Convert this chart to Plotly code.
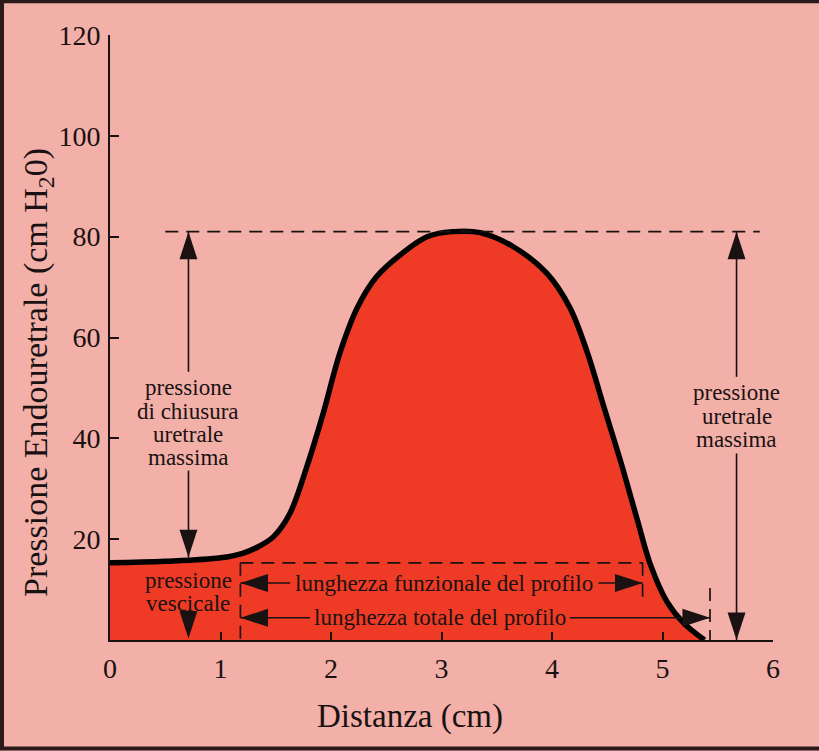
import plotly.graph_objects as go

# ---- data -------------------------------------------------------------
distance_cm = [0.0, 0.5, 1.0, 1.2, 1.35, 1.48, 1.63, 1.78, 1.93, 2.08, 2.24, 2.41,
               2.65, 2.87, 3.1, 3.35, 3.65, 3.95, 4.16, 4.32, 4.47, 4.62, 4.77,
               4.89, 5.04, 5.19, 5.38]
pressure_cmh2o = [15.3, 15.6, 16.3, 17.2, 18.6, 20.5, 25.2, 34.3, 45.0, 56.9, 66.0,
                  72.0, 76.8, 80.0, 81.0, 80.8, 78.0, 72.8, 66.0, 57.0, 46.2, 35.5,
                  24.0, 15.0, 7.6, 3.4, 0.0]

x_ticks = [0, 1, 2, 3, 4, 5, 6]
y_ticks = [20, 40, 60, 80, 100, 120]

max_pressure = 81.0          # pressione uretrale massima
bladder_pressure = 15.3      # pressione vescicale
functional_start = 1.18
functional_end = 4.82
total_end = 5.43
max_line_x = [0.5, 5.88]
closure_x = 0.71
closure_bottom = 16.4
urethral_x = 5.67
functional_arrow_y = 11.3
total_arrow_y = 4.4
functional_end_drop = 7.3
total_end_top = 10.3

closure_label = ["pressione", "di chiusura", "uretrale", "massima"]
closure_label_y = [50.0, 45.4, 40.8, 36.2]
closure_gap = [53.2, 33.6]
urethral_label = ["pressione", "uretrale", "massima"]
urethral_label_y = [49.0, 44.4, 39.8]
urethral_gap = [52.2, 37.0]
vesical_label = ["pressione", "vescicale"]
vesical_label_y = [11.8, 7.3]
vesical_arrow = [4.6, 0.3]
functional_text = "lunghezza funzionale del profilo"
functional_text_span = [1.63, 4.42]
total_text = "lunghezza totale del profilo"
total_text_span = [1.81, 4.16]

# ---- style ------------------------------------------------------------
BG = "#f3b0a8"
RED = "#ef3b25"
INK = "#1a1212"
FONT = "Liberation Serif"
LBL = 23

fig = go.Figure()

fig.add_trace(go.Scatter(
    x=distance_cm, y=pressure_cmh2o, mode="lines",
    line=dict(color="black", width=5.5, shape="spline", smoothing=1.0),
    fill="tozeroy", fillcolor=RED, hoverinfo="skip", showlegend=False,
    cliponaxis=False))

dash = "13px,8px"
def dashed(xs, ys, w=1.7):
    fig.add_trace(go.Scatter(x=xs, y=ys, mode="lines",
                             line=dict(color=INK, width=w, dash=dash),
                             hoverinfo="skip", showlegend=False))

dashed(max_line_x, [max_pressure, max_pressure])
dashed([functional_start, functional_end], [bladder_pressure, bladder_pressure])
dashed([functional_start, functional_start], [bladder_pressure, 0])
dashed([functional_end, functional_end], [bladder_pressure, functional_end_drop])
dashed([total_end, total_end], [total_end_top, 0])

heads_x, heads_y, heads_ang = [], [], []
def arrow(tip_x, tip_y, tail_x, tail_y, angle, line=True):
    if line:
        fig.add_trace(go.Scatter(x=[tail_x, tip_x], y=[tail_y, tip_y], mode="lines",
                                 line=dict(color=INK, width=1.6),
                                 hoverinfo="skip", showlegend=False))
    heads_x.append(tip_x); heads_y.append(tip_y); heads_ang.append(angle)

ann = []
def label(x, y, t, size=LBL):
    ann.append(dict(x=x, y=y, xref="x", yref="y", text=t, showarrow=False,
                    font=dict(family=FONT, size=size, color=INK),
                    xanchor="center", yanchor="middle"))

UP, DOWN, LEFT, RIGHT = 0, 180, 270, 90

# closure pressure
arrow(closure_x, max_pressure, closure_x, closure_gap[0], UP)
arrow(closure_x, closure_bottom, closure_x, closure_gap[1], DOWN)
for t, yy in zip(closure_label, closure_label_y):
    label(closure_x, yy, t)

# max urethral pressure
arrow(urethral_x, max_pressure, urethral_x, urethral_gap[0], UP)
arrow(urethral_x, 0, urethral_x, urethral_gap[1], DOWN)
for t, yy in zip(urethral_label, urethral_label_y):
    label(urethral_x, yy, t)

# bladder pressure
for t, yy in zip(vesical_label, vesical_label_y):
    label(closure_x, yy, t)
arrow(closure_x, vesical_arrow[1], closure_x, vesical_arrow[0], DOWN, line=False)

# functional length
arrow(functional_start, functional_arrow_y, functional_text_span[0], functional_arrow_y, LEFT)
arrow(functional_end, functional_arrow_y, functional_text_span[1], functional_arrow_y, RIGHT)
label(sum(functional_text_span) / 2, functional_arrow_y, functional_text)

# total length
arrow(functional_start, total_arrow_y, total_text_span[0], total_arrow_y, LEFT)
arrow(total_end, total_arrow_y, total_text_span[1], total_arrow_y, RIGHT)
label(sum(total_text_span) / 2, total_arrow_y, total_text)

fig.add_trace(go.Scatter(
    x=heads_x, y=heads_y, mode="markers",
    marker=dict(symbol="arrow", size=29, angle=heads_ang, color=INK,
                line=dict(width=0)),
    hoverinfo="skip", showlegend=False, cliponaxis=False))

# axis titles
ann.append(dict(x=-0.1086, y=0.443, xref="paper", yref="paper", showarrow=False,
                text="Pressione Endouretrale (cm H<sub>2</sub>0)", textangle=-90,
                font=dict(family=FONT, size=34, color=INK),
                xanchor="center", yanchor="middle"))
ann.append(dict(x=0.4525, y=-0.127, xref="paper", yref="paper", showarrow=False,
                text="Distanza (cm)", font=dict(family=FONT, size=33, color=INK),
                xanchor="center", yanchor="middle"))

fig.update_layout(
    width=819, height=751,
    margin=dict(l=110, r=46, t=35, b=111),
    paper_bgcolor=BG, plot_bgcolor=BG,
    font=dict(family=FONT, color=INK),
    annotations=ann,
    showlegend=False,
    shapes=[dict(type="path", xref="paper", yref="paper",
                 path="M %f,%f L %f,%f L %f,%f L %f,%f" % (
                     709 / 663, 640 / 605 - 0.002, -110 / 663 + 0.003, 640 / 605 - 0.002,
                     -110 / 663 + 0.003, -111 / 605 + 0.004, 709 / 663, -111 / 605 + 0.004),
                 line=dict(color="#2a1a1a", width=4), layer="above")],
)
fig.update_xaxes(
    range=[0, 6], tickvals=x_ticks, ticktext=[str(v) for v in x_ticks],
    showgrid=False, zeroline=False, showline=True, linecolor=INK, linewidth=2,
    ticks="inside", ticklen=8, tickwidth=2, tickcolor=INK,
    tickfont=dict(family=FONT, size=28, color=INK), ticklabelstandoff=2)
fig.update_yaxes(
    range=[0, 120], tickvals=y_ticks, ticktext=[str(v) for v in y_ticks],
    showgrid=False, zeroline=False, showline=True, linecolor=INK, linewidth=2,
    ticks="inside", ticklen=9, tickwidth=2, tickcolor=INK,
    tickfont=dict(family=FONT, size=28, color=INK), ticklabelstandoff=2)

fig.write_html("out.html")
